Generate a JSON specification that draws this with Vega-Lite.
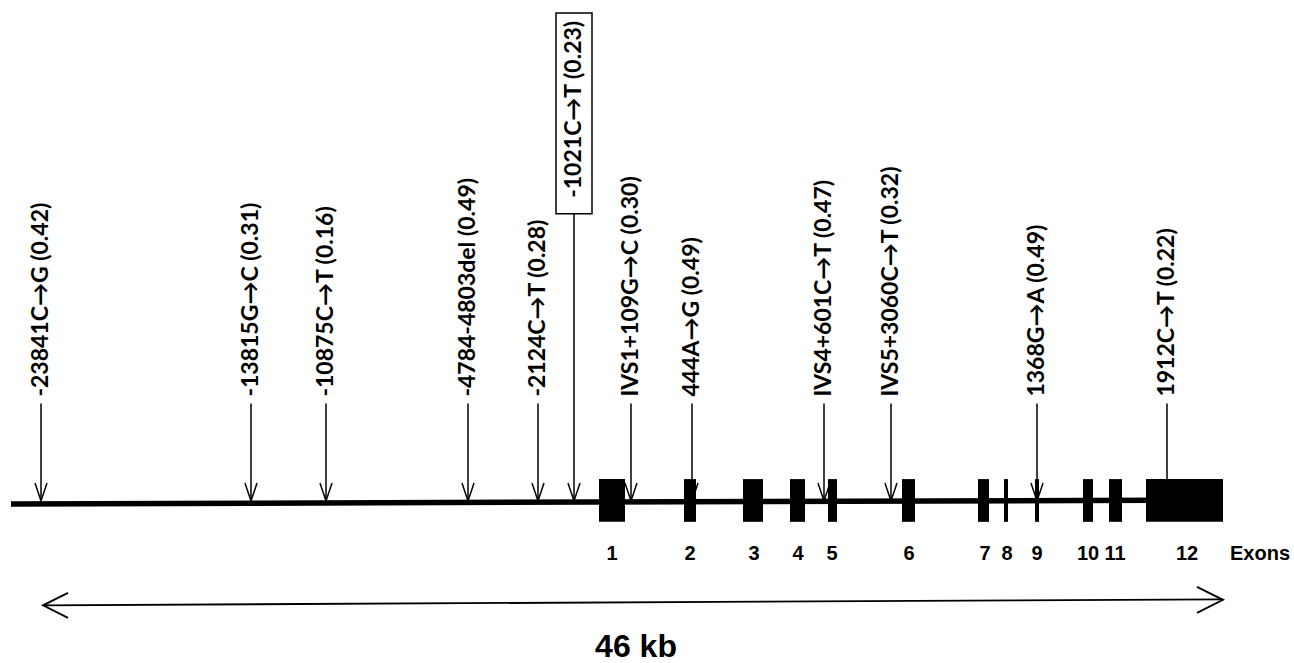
{
  "$schema": "https://vega.github.io/schema/vega-lite/v6.json",
  "width": 1294,
  "height": 663,
  "autosize": {"type": "fit", "contains": "padding"},
  "padding": 0,
  "background": "white",
  "config": {"view": {"stroke": null}, "font": "Liberation Sans"},
  "datasets": {
    "mutations": [
      {"label": "-23841C→G (0.42)", "pos": 41, "boxed": false},
      {"label": "-13815G→C (0.31)", "pos": 251, "boxed": false},
      {"label": "-10875C→T (0.16)", "pos": 326, "boxed": false},
      {"label": "-4784-4803del (0.49)", "pos": 468, "boxed": false},
      {"label": "-2124C→T (0.28)", "pos": 538, "boxed": false},
      {"label": "-1021C→T (0.23)", "pos": 574, "boxed": true},
      {"label": "IVS1+109G→C (0.30)", "pos": 631, "boxed": false},
      {"label": "444A→G (0.49)", "pos": 692, "boxed": false},
      {"label": "IVS4+601C→T (0.47)", "pos": 824, "boxed": false},
      {"label": "IVS5+3060C→T (0.32)", "pos": 891, "boxed": false},
      {"label": "1368G→A (0.49)", "pos": 1037, "boxed": false},
      {"label": "1912C→T (0.22)", "pos": 1167, "boxed": false}
    ],
    "exons": [
      {"exon": "1", "start": 599, "end": 625, "lab": 612},
      {"exon": "2", "start": 684, "end": 696, "lab": 690},
      {"exon": "3", "start": 743, "end": 763, "lab": 754},
      {"exon": "4", "start": 790, "end": 805, "lab": 798},
      {"exon": "5", "start": 828, "end": 837, "lab": 832},
      {"exon": "6", "start": 902, "end": 915, "lab": 909},
      {"exon": "7", "start": 978, "end": 989, "lab": 985},
      {"exon": "8", "start": 1004, "end": 1008, "lab": 1007},
      {"exon": "9", "start": 1035, "end": 1039, "lab": 1037},
      {"exon": "10", "start": 1083, "end": 1093, "lab": 1088},
      {"exon": "11", "start": 1109, "end": 1122, "lab": 1115},
      {"exon": "12", "start": 1146, "end": 1223, "lab": 1187}
    ],
    "gene": [
      {"x": 11, "y": 507},
      {"x": 1223, "y": 503}
    ]
  },
  "layer": [
    {
      "data": {"name": "gene"},
      "mark": {"type": "line", "color": "black", "strokeWidth": 5.5},
      "encoding": {
        "x": {"field": "x", "type": "quantitative", "scale": {"domain": [0, 1294], "nice": false, "zero": false}, "axis": null},
        "y": {"field": "y", "type": "quantitative", "scale": {"domain": [0, 663], "nice": false, "zero": false, "reverse": true}, "axis": null}
      }
    },
    {
      "data": {"name": "exons"},
      "mark": {"type": "rect", "color": "black"},
      "encoding": {
        "x": {"field": "start", "type": "quantitative"},
        "x2": {"field": "end"},
        "y": {"datum": 482},
        "y2": {"datum": 525}
      }
    },
    {
      "data": {"name": "exons"},
      "mark": {"type": "text", "fontWeight": "bold", "fontSize": 20, "align": "center", "baseline": "middle", "color": "black"},
      "encoding": {
        "x": {"field": "lab", "type": "quantitative"},
        "y": {"datum": 557},
        "text": {"field": "exon"}
      }
    },
    {
      "data": {"values": [{"t": "Exons"}]},
      "mark": {"type": "text", "fontWeight": "bold", "fontSize": 20, "align": "center", "baseline": "middle", "color": "black"},
      "encoding": {
        "x": {"datum": 1260},
        "y": {"datum": 557},
        "text": {"field": "t"}
      }
    },
    {
      "data": {"name": "mutations"},
      "transform": [{"filter": "!datum.boxed"}],
      "mark": {"type": "rule", "color": "black", "strokeWidth": 1.5},
      "encoding": {
        "x": {"field": "pos", "type": "quantitative"},
        "y": {"datum": 406},
        "y2": {"datum": 503}
      }
    },
    {
      "data": {"name": "mutations"},
      "transform": [{"filter": "datum.boxed"}],
      "mark": {"type": "rule", "color": "black", "strokeWidth": 1.5},
      "encoding": {
        "x": {"field": "pos", "type": "quantitative"},
        "y": {"datum": 215},
        "y2": {"datum": 503}
      }
    },
    {
      "data": {"name": "mutations"},
      "mark": {"type": "point", "shape": "M-0.67,-1L0,1L0.67,-1", "size": 324, "filled": false, "stroke": "black", "strokeWidth": 1.5, "opacity": 1},
      "encoding": {
        "x": {"field": "pos", "type": "quantitative"},
        "y": {"datum": 495}
      }
    },
    {
      "data": {"name": "mutations"},
      "transform": [{"filter": "!datum.boxed"}],
      "mark": {"type": "text", "font": "Lato", "fontWeight": "bold", "fontSize": 23, "angle": 270, "align": "left", "baseline": "middle", "color": "black"},
      "encoding": {
        "x": {"field": "pos", "type": "quantitative"},
        "y": {"datum": 399},
        "text": {"field": "label"}
      }
    },
    {
      "data": {"name": "mutations"},
      "transform": [{"filter": "datum.boxed"}],
      "mark": {"type": "text", "font": "Lato", "fontWeight": "bold", "fontSize": 23, "angle": 270, "align": "left", "baseline": "middle", "color": "black"},
      "encoding": {
        "x": {"field": "pos", "type": "quantitative"},
        "y": {"datum": 199},
        "text": {"field": "label"}
      }
    },
    {
      "data": {"values": [{"k": 1}]},
      "mark": {"type": "rect", "fill": null, "filled": false, "stroke": "black", "strokeWidth": 1.5},
      "encoding": {
        "x": {"datum": 556},
        "x2": {"datum": 592},
        "y": {"datum": 13},
        "y2": {"datum": 215}
      }
    },
    {
      "data": {"values": [{"k": 1}]},
      "mark": {"type": "rule", "color": "black", "strokeWidth": 1.8},
      "encoding": {
        "x": {"datum": 43},
        "x2": {"datum": 1223},
        "y": {"datum": 609},
        "y2": {"datum": 603}
      }
    },
    {
      "data": {"values": [{"side": "left", "x": 55.5, "y": 609}]},
      "mark": {"type": "point", "shape": "M1,-1L-1,0L1,1", "size": 625, "filled": false, "stroke": "black", "strokeWidth": 1.8, "opacity": 1},
      "encoding": {
        "x": {"field": "x", "type": "quantitative"},
        "y": {"field": "y", "type": "quantitative"}
      }
    },
    {
      "data": {"values": [{"side": "right", "x": 1210, "y": 603.5}]},
      "mark": {"type": "point", "shape": "M-1,-1L1,0L-1,1", "size": 676, "filled": false, "stroke": "black", "strokeWidth": 1.8, "opacity": 1},
      "encoding": {
        "x": {"field": "x", "type": "quantitative"},
        "y": {"field": "y", "type": "quantitative"}
      }
    },
    {
      "data": {"values": [{"t": "46 kb"}]},
      "mark": {"type": "text", "fontWeight": "bold", "fontSize": 32, "align": "center", "baseline": "alphabetic", "color": "black"},
      "encoding": {
        "x": {"datum": 636},
        "y": {"datum": 661},
        "text": {"field": "t"}
      }
    }
  ]
}
